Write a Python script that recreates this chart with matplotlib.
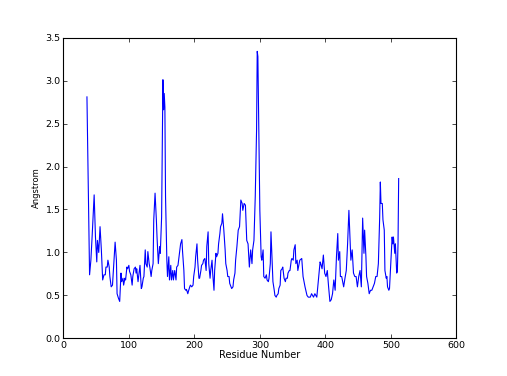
import matplotlib
matplotlib.use("Agg")
import matplotlib.pyplot as plt

# residue numbers and per-residue deviation (Angstrom)
residue = [
    36, 40, 42, 44, 47, 49, 51, 52, 54, 55,
    56, 58, 60, 62, 64, 65, 67, 68, 70, 71,
    73, 75, 77, 79, 81, 82, 84, 86, 88, 89,
    91, 92, 94, 95, 97, 98, 100, 101, 103, 105,
    106, 108, 110, 111, 112, 114, 116, 117, 119, 120,
    122, 123, 125, 126, 128, 129, 131, 132, 134, 135,
    137, 138, 140, 142, 143, 145, 147, 148, 150, 152,
    153, 154, 155, 156, 158, 159, 161, 162, 164, 165,
    167, 168, 170, 172, 173, 175, 176, 178, 179, 181,
    182, 184, 185, 187, 188, 190, 191, 193, 194, 196,
    198, 199, 201, 202, 204, 205, 207, 208, 210, 211,
    213, 214, 216, 218, 219, 221, 222, 224, 225, 227,
    228, 230, 231, 233, 234, 236, 237, 239, 240, 242,
    243, 245, 247, 248, 250, 251, 253, 254, 256, 257,
    259, 260, 262, 263, 265, 267, 269, 271, 273, 274,
    276, 278, 280, 282, 284, 286, 288, 289, 291, 293,
    295, 296, 297, 299, 300, 302, 303, 305, 306, 308,
    310, 311, 313, 314, 316, 317, 319, 320, 322, 323,
    325, 326, 328, 329, 331, 332, 334, 335, 337, 339,
    340, 342, 343, 345, 346, 348, 349, 351, 352, 354,
    355, 357, 358, 360, 361, 364, 366, 369, 372, 374,
    377, 379, 382, 384, 387, 389, 392, 393, 395, 397,
    399, 401, 403, 405, 407, 409, 411, 413, 415, 417,
    419, 420, 422, 423, 425, 428, 430, 432, 434, 436,
    438, 439, 441, 443, 445, 447, 449, 451, 453, 455,
    457, 459, 460, 462, 463, 465, 467, 469, 471, 473,
    475, 477, 479, 481, 483, 484, 485, 487, 488, 490,
    491, 493, 494, 495, 497, 498, 500, 502, 503, 504,
    506, 507, 509, 510, 511, 512,
]
angstrom = [
    2.81, 0.74, 0.91, 1.20, 1.67, 1.18, 0.89, 1.14, 1.00, 1.14,
    1.30, 1.03, 0.68, 0.74, 0.74, 0.83, 0.83, 0.91, 0.83, 0.72,
    0.60, 0.62, 0.87, 1.12, 0.91, 0.52, 0.47, 0.43, 0.76, 0.66,
    0.70, 0.62, 0.70, 0.68, 0.83, 0.81, 0.85, 0.78, 0.74, 0.62,
    0.72, 0.81, 0.83, 0.76, 0.81, 0.66, 0.79, 0.85, 0.58, 0.60,
    0.70, 0.72, 1.03, 0.87, 0.83, 1.01, 0.87, 0.83, 0.72, 0.79,
    0.87, 1.38, 1.69, 1.38, 1.18, 0.87, 1.07, 0.99, 1.41, 3.01,
    2.66, 2.85, 2.69, 1.65, 0.91, 0.72, 0.95, 0.68, 0.85, 0.68,
    0.79, 0.68, 0.79, 0.68, 0.83, 0.85, 0.91, 1.03, 1.10, 1.15,
    1.01, 0.79, 0.58, 0.56, 0.57, 0.52, 0.55, 0.60, 0.62, 0.60,
    0.62, 0.72, 0.83, 0.95, 1.10, 0.91, 0.70, 0.70, 0.79, 0.85,
    0.87, 0.91, 0.93, 0.79, 1.07, 1.24, 0.87, 0.70, 0.79, 0.91,
    0.76, 0.56, 0.79, 0.99, 0.95, 0.99, 1.10, 1.22, 1.30, 1.34,
    1.45, 1.26, 1.03, 0.87, 0.79, 0.72, 0.72, 0.64, 0.60, 0.58,
    0.60, 0.68, 0.76, 0.91, 1.07, 1.26, 1.30, 1.61, 1.57, 1.49,
    1.57, 1.55, 1.14, 1.10, 0.83, 1.03, 0.87, 1.03, 1.14, 1.65,
    2.42, 3.34, 3.28, 2.03, 1.49, 0.95, 0.91, 1.03, 0.72, 0.70,
    0.74, 0.68, 0.66, 0.70, 0.87, 1.24, 0.87, 0.66, 0.56, 0.50,
    0.48, 0.50, 0.52, 0.58, 0.62, 0.79, 0.81, 0.83, 0.70, 0.66,
    0.70, 0.70, 0.76, 0.79, 0.79, 0.91, 0.93, 0.91, 1.03, 1.09,
    0.87, 0.91, 0.79, 0.87, 0.91, 0.93, 0.72, 0.60, 0.50, 0.48,
    0.48, 0.52, 0.48, 0.52, 0.48, 0.64, 0.89, 0.87, 0.81, 0.97,
    0.76, 0.72, 0.79, 0.60, 0.43, 0.45, 0.52, 0.68, 0.56, 0.95,
    1.22, 0.91, 1.01, 0.72, 0.72, 0.60, 0.70, 0.79, 1.10, 1.49,
    1.10, 0.91, 1.03, 0.76, 0.72, 0.72, 0.60, 0.72, 0.79, 0.60,
    1.40, 0.99, 1.26, 0.95, 0.72, 0.64, 0.52, 0.56, 0.56, 0.60,
    0.64, 0.72, 0.72, 0.87, 1.41, 1.82, 1.57, 1.57, 1.38, 1.26,
    0.79, 0.70, 0.72, 0.60, 0.56, 0.58, 0.87, 1.18, 1.10, 1.18,
    0.99, 1.10, 0.76, 0.78, 1.10, 1.86,
]

fig = plt.figure(figsize=(5.07, 3.76), dpi=100)
ax = fig.add_axes([0.125, 0.1, 0.775, 0.8])

ax.plot(residue, angstrom, color="b", linewidth=0.8)

ax.set_xlim(0, 600)
ax.set_ylim(0, 3.5)
ax.set_xticks(range(0, 601, 100))
ax.set_yticks([0.0, 0.5, 1.0, 1.5, 2.0, 2.5, 3.0, 3.5])
ax.set_yticklabels(["0.0", "0.5", "1.0", "1.5", "2.0", "2.5", "3.0", "3.5"])
ax.tick_params(direction="in", top=True, right=True, length=3, width=0.5,
               labelsize=6.8, pad=2)
for s in ax.spines.values():
    s.set_linewidth(0.8)

ax.set_xlabel("Residue Number", fontsize=7, labelpad=0)
ax.set_ylabel("Angstrom", fontsize=6, labelpad=3)

fig.savefig("out.png", dpi=100)
